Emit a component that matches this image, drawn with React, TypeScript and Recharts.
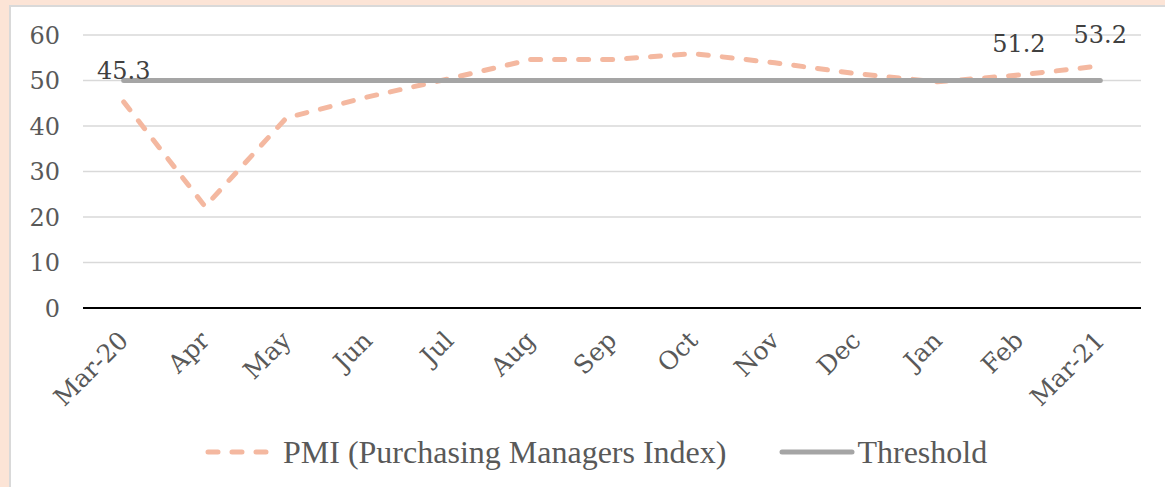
import React from "react";
import { LineChart, Line, XAxis, YAxis, CartesianGrid, Legend } from "recharts";

const months = ["Mar-20", "Apr", "May", "Jun", "Jul", "Aug", "Sep", "Oct", "Nov", "Dec", "Jan", "Feb", "Mar-21"];
const pmi = [45.3, 22.3, 41.8, 46.4, 50.4, 54.6, 54.6, 55.9, 53.9, 51.5, 49.7, 51.2, 53.2];
const threshold = [50, 50, 50, 50, 50, 50, 50, 50, 50, 50, 50, 50, 50];
const labelledMonths = ["Mar-20", "Feb", "Mar-21"];
const yTicks = [0, 10, 20, 30, 40, 50, 60];

const data = months.map((m, i) => ({ month: m, pmi: pmi[i], threshold: threshold[i] }));

const PMI_COLOR = "#f4b8a0";
const TH_COLOR = "#a5a5a5";
const SERIF = "'DejaVu Serif', serif";

function XTick({ x, y, payload }: any) {
  const tx = x + 6;
  const ty = y + 32;
  return (
    <text x={tx} y={ty} transform={`rotate(-45 ${tx} ${ty})`} textAnchor="end" fill="#595959" fontSize={25} fontFamily={SERIF}>
      {payload.value}
    </text>
  );
}

function PointLabel({ x, y, index }: any) {
  if (!labelledMonths.includes(months[index])) return null;
  return (
    <text x={x} y={y - 23} textAnchor="middle" fill="#404040" fontSize={24} fontFamily={SERIF}>
      {pmi[index]}
    </text>
  );
}

function LegendBox() {
  const txt = { fontFamily: "'Liberation Serif', serif", fontSize: 32, color: "#595959", lineHeight: "50px", whiteSpace: "nowrap" as const };
  return (
    <div style={{ height: 50, display: "flex", alignItems: "center", paddingLeft: 195 }}>
      <svg width={66} height={10} style={{ marginRight: 12 }}>
        <line x1={3} y1={5} x2={63} y2={5} stroke={PMI_COLOR} strokeWidth={5} strokeDasharray="10 14" strokeLinecap="round" />
      </svg>
      <span style={txt}>PMI (Purchasing Managers Index)</span>
      <svg width={76} height={10} style={{ marginLeft: 53, marginRight: 2 }}>
        <line x1={3} y1={5} x2={73} y2={5} stroke={TH_COLOR} strokeWidth={5} strokeLinecap="round" />
      </svg>
      <span style={txt}>Threshold</span>
    </div>
  );
}

export default function App() {
  return (
    <div style={{ position: "absolute", left: 0, top: 0, width: 1165, height: 487, background: "#fce4d6", overflow: "hidden" }}>
      <div style={{ position: "absolute", left: 9, top: 5, width: 1200, height: 520, background: "#fff", border: "2px solid #d9d9d9" }} />
      <div style={{ position: "absolute", left: 0, top: 0 }}>
        <LineChart width={1165} height={487} data={data} margin={{ top: 35, right: 24, bottom: 10, left: 10 }}>
          <CartesianGrid vertical={false} stroke="#d9d9d9" strokeWidth={1.5} />
          <XAxis
            dataKey="month"
            scale="band"
            height={119}
            axisLine={{ stroke: "#000", strokeWidth: 1.8 }}
            tickLine={false}
            tickSize={0}
            tick={<XTick />}
            interval={0}
          />
          <YAxis
            width={73}
            domain={[0, 60]}
            ticks={yTicks}
            axisLine={false}
            tickLine={false}
            tickSize={0}
            tickMargin={23}
            tick={{ fill: "#595959", fontSize: 24, fontFamily: SERIF }}
          />
          <Legend layout="horizontal" verticalAlign="bottom" content={<LegendBox />} />
          <Line
            dataKey="pmi"
            name="PMI (Purchasing Managers Index)"
            type="linear"
            stroke={PMI_COLOR}
            strokeWidth={5}
            strokeDasharray="10 14"
            strokeLinecap="round"
            strokeLinejoin="round"
            dot={false}
            label={<PointLabel />}
            isAnimationActive={false}
          />
          <Line
            dataKey="threshold"
            name="Threshold"
            type="linear"
            stroke={TH_COLOR}
            strokeWidth={5}
            strokeLinecap="round"
            dot={false}
            isAnimationActive={false}
          />
        </LineChart>
      </div>
    </div>
  );
}
